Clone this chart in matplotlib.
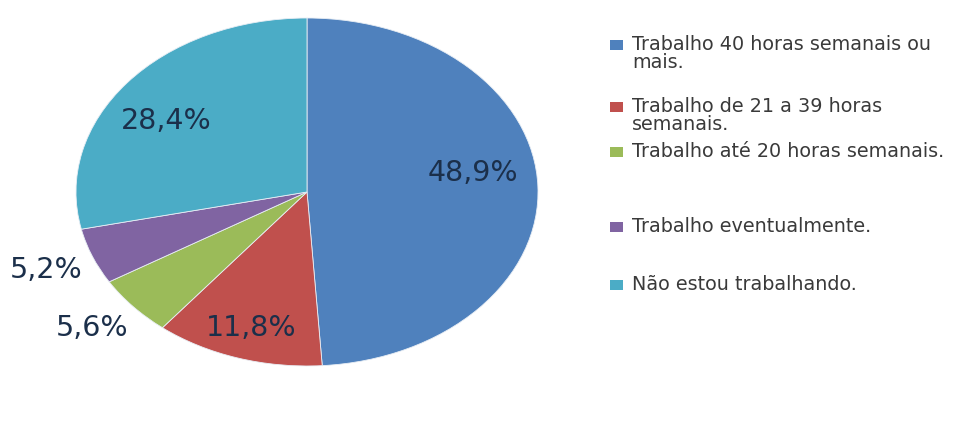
import matplotlib.pyplot as plt
from matplotlib.patches import Rectangle

# Situação de trabalho dos respondentes (%)
categorias = [
    "Trabalho 40 horas semanais ou\nmais.",
    "Trabalho de 21 a 39 horas\nsemanais.",
    "Trabalho até 20 horas semanais.",
    "Trabalho eventualmente.",
    "Não estou trabalhando.",
]
percentuais = [48.9, 11.8, 5.6, 5.2, 28.4]
cores = ["#4F81BD", "#C0504D", "#9BBB59", "#8064A2", "#4BACC6"]

# posição dos rótulos (coordenadas do eixo, raio = 1)
pos_rotulos = [(0.72, 0.11), (-0.24, -0.78), (-0.93, -0.78), (-1.13, -0.45), (-0.61, 0.41)]
# linha (em px a partir do topo) de cada item da legenda
pos_legenda = [45, 107, 152, 227, 285]

W, H = 956, 425
fig = plt.figure(figsize=(W / 100, H / 100), dpi=100)
fig.patch.set_facecolor("white")

# pizza elíptica: o eixo não tem aspecto igual
cx, cy, rx, ry = 307, 192, 231, 174
ax = fig.add_axes([(cx - rx) / W, (H - cy - ry) / H, 2 * rx / W, 2 * ry / H])
ax.pie(percentuais, colors=cores, startangle=90, counterclock=False,
       wedgeprops=dict(edgecolor="#e8eef5", linewidth=0.6))
ax.set_aspect("auto")
ax.set_xlim(-1, 1)
ax.set_ylim(-1, 1)
ax.axis("off")

for v, (x, y) in zip(percentuais, pos_rotulos):
    ax.text(x, y, f"{v:.1f}%".replace(".", ","), ha="center", va="center",
            fontsize=20.5, color="#1B2F4A", clip_on=False)

# legenda desenhada à mão
for nome, cor, yl in zip(categorias, cores, pos_legenda):
    fig.patches.append(Rectangle((610 / W, (H - yl - 5) / H), 13 / W, 10 / H,
                                 facecolor=cor, edgecolor="none",
                                 transform=fig.transFigure))
    fig.text(632 / W, (H - yl + 10) / H, nome, ha="left", va="top",
             fontsize=13.8, color="#3a3a3a", linespacing=0.95)

fig.savefig("out.png", dpi=100, facecolor="white")
